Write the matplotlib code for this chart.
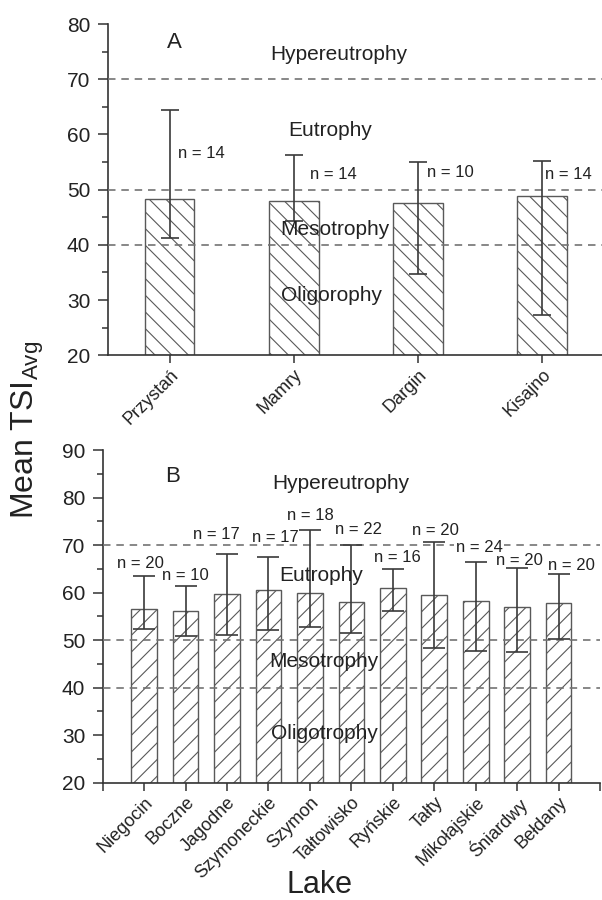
import numpy as np
import matplotlib
matplotlib.use("Agg")
import matplotlib.pyplot as plt
from matplotlib.ticker import MultipleLocator

plt.rcParams['font.family'] = ['Liberation Sans', 'DejaVu Sans']
plt.rcParams['mathtext.fontset'] = 'custom'
plt.rcParams['mathtext.rm'] = 'Liberation Sans'
plt.rcParams['mathtext.it'] = 'Liberation Sans'
plt.rcParams['hatch.color'] = '0.45'
plt.rcParams['hatch.linewidth'] = 0.8

# Panel A data
lakes_a = ["Przystań", "Mamry", "Dargin", "Kisajno"]
mean_a = [48.4, 48.0, 47.5, 48.9]
upper_a = [64.4, 56.3, 55.0, 55.2]
lower_a = [41.2, 44.4, 34.7, 27.3]
n_a = [14, 14, 10, 14]
n_a_x = [1.07, 2.13, 3.07, 4.02]
n_a_y = [56.5, 52.8, 53.1, 52.8]

# Panel B data
lakes_b = ["Niegocin", "Boczne", "Jagodne", "Szymoneckie", "Szymon",
           "Tałtowisko", "Ryńskie", "Tałty", "Mikołajskie", "Śniardwy", "Bełdany"]
mean_b = [56.5, 56.2, 59.6, 60.5, 59.85, 57.95, 60.9, 59.5, 58.3, 56.9, 57.75]
upper_b = [63.5, 61.4, 68.1, 67.55, 73.2, 70.0, 64.95, 70.6, 66.4, 65.1, 63.9]
lower_b = [52.3, 50.9, 51.1, 52.1, 52.8, 51.4, 56.1, 48.3, 47.8, 47.4, 50.2]
n_b = [20, 10, 17, 17, 18, 22, 16, 20, 24, 20, 20]
n_b_x = [0.92, 2.0, 2.75, 4.17, 5.02, 6.18, 7.11, 8.03, 9.08, 10.05, 11.3]
n_b_y = [66.2, 63.5, 72.3, 71.55, 76.3, 73.2, 67.35, 73.0, 69.5, 66.7, 65.65]

thresholds = [70, 50, 40]
zones_a = ["Hypereutrophy", "Eutrophy", "Mesotrophy", "Oligorophy"]
zones_a_pos = [(2.36, 74.5), (2.29, 60.8), (2.33, 42.7), (2.30, 30.9)]
zones_b = ["Hypereutrophy", "Eutrophy", "Mesotrophy", "Oligotrophy"]
zones_b_pos = [(5.74, 83.0), (5.26, 63.5), (5.33, 45.5), (5.36, 30.4)]

TXT = '#222222'
AXC = '#333333'


def style_axis(ax):
    for s in ['top', 'right']:
        ax.spines[s].set_visible(False)
    for s in ['left', 'bottom']:
        ax.spines[s].set_color(AXC)
        ax.spines[s].set_linewidth(1.2)
    ax.yaxis.set_major_locator(MultipleLocator(10))
    ax.yaxis.set_minor_locator(MultipleLocator(5))
    ax.tick_params(axis='y', which='major', length=7.5, width=1.1, color=AXC,
                   labelsize=15, labelcolor=TXT, pad=5)
    ax.tick_params(axis='y', which='minor', length=4, width=1.1, color=AXC)
    ax.tick_params(axis='x', which='major', length=6, width=1.1, color=AXC,
                   labelsize=13, labelcolor=TXT, pad=2)
    for lab in ax.get_xticklabels():
        lab.set_rotation(45)
        lab.set_ha('right')
        lab.set_va('top')
        lab.set_rotation_mode('anchor')


def draw_panel(ax, x, means, up, lo, width, hatch, capsize):
    base = ax.get_ylim()[0]
    means = np.array(means)
    ax.bar(x, means - base, width, bottom=base,
           color='white', edgecolor='0.35', linewidth=1.0, hatch=hatch, zorder=2)
    yerr = [means - np.array(lo), np.array(up) - means]
    ax.errorbar(x, means, yerr=yerr, fmt='none', ecolor='#3a3a3a', elinewidth=1.2,
                capsize=capsize, capthick=1.2, zorder=4)
    for t in thresholds:
        ax.axhline(t, color='0.45', linewidth=1.2, linestyle=(0, (4.5, 3.5)), zorder=3)


fig = plt.figure(figsize=(6.02, 9.0), dpi=100)

# Panel A
ax1 = fig.add_axes([0.1786, 0.6052, 0.8254, 0.3681])
ax1.set_ylim(20, 80)
ax1.set_xlim(0.5, 4.5)
xa = np.arange(1, len(lakes_a) + 1)
draw_panel(ax1, xa, mean_a, upper_a, lower_a, 0.4, '\\\\', 6.5)
ax1.set_xticks(xa)
ax1.set_xticklabels(lakes_a)
style_axis(ax1)
for xi, yi, n in zip(n_a_x, n_a_y, n_a):
    ax1.text(xi, yi, f"n = {n}", fontsize=12, color=TXT, ha='left', va='center', zorder=5)
ax1.text(1.04, 76.6, "A", fontsize=16, color=TXT, ha='center', va='center')
for name, (zx, zy) in zip(zones_a, zones_a_pos):
    ax1.text(zx, zy, name, fontsize=15, color=TXT, ha='center', va='center', zorder=5)

# Panel B
ax2 = fig.add_axes([0.1706, 0.1303, 0.8261, 0.3697])
ax2.set_ylim(20, 90)
ax2.set_xlim(0, 12)
xb = np.arange(1, len(lakes_b) + 1)
draw_panel(ax2, xb, mean_b, upper_b, lower_b, 0.62, '//', 7.8)
ax2.set_xticks(np.arange(0, len(lakes_b) + 2))
ax2.set_xticklabels([""] + lakes_b + [""])
style_axis(ax2)
for xi, yi, n in zip(n_b_x, n_b_y, n_b):
    kw = {}
    if n == 24:
        kw['bbox'] = dict(facecolor='white', edgecolor='none', pad=1.0)
    ax2.text(xi, yi, f"n = {n}", fontsize=12, color=TXT, ha='center', va='center',
             zorder=5, **kw)
ax2.text(1.69, 84.4, "B", fontsize=16, color=TXT, ha='center', va='center')
for name, (zx, zy) in zip(zones_b, zones_b_pos):
    ax2.text(zx, zy, name, fontsize=15, color=TXT, ha='center', va='center', zorder=5)

fig.text(0.016, 0.522, r"Mean TSI$_{\mathrm{Avg}}$", fontsize=23, color=TXT,
         rotation=90, ha='left', va='center')
fig.text(0.531, 0.008, "Lake", fontsize=22, color=TXT, ha='center', va='baseline')

fig.savefig("out.png", dpi=100)
